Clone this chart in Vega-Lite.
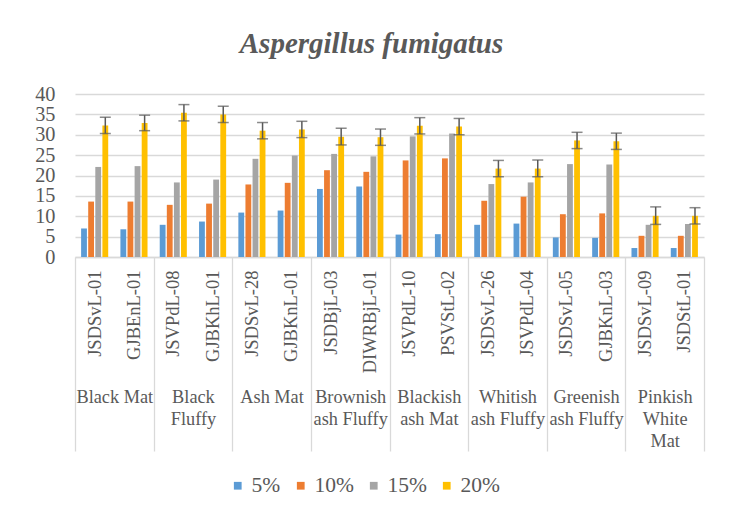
{
  "$schema": "https://vega.github.io/schema/vega-lite/v6.json",
  "autosize": {"type": "none"},
  "width": 629,
  "height": 163,
  "padding": {"left": 75, "top": 94, "right": 32, "bottom": 263},
  "background": "white",
  "title": {
    "text": "Aspergillus fumigatus",
    "anchor": "middle",
    "dx": -18,
    "offset": 25
  },
  "config": {
    "view": {"stroke": null},
    "font": "Liberation Serif",
    "title": {"font": "Liberation Serif", "fontStyle": "italic", "fontWeight": "bold", "fontSize": 29, "color": "#595959"},
    "axisY": {
      "labelFont": "Liberation Serif",
      "labelFontSize": 20.3,
      "labelColor": "#595959",
      "labelPadding": 20,
      "labelOverlap": false,
      "labelFlush": false,
      "ticks": false,
      "domain": false,
      "gridColor": "#d9d9d9",
      "gridWidth": 1.3,
      "title": null
    },
    "legend": {
      "labelFont": "Liberation Serif",
      "labelFontSize": 21.5,
      "labelColor": "#595959",
      "symbolType": "square",
      "symbolSize": 60,
      "symbolStrokeWidth": 0,
      "labelOffset": 3,
      "columnPadding": 9,
      "gridAlign": "none",
      "padding": 0
    }
  },
  "datasets": {
    "rows": [
      {"group": "Black Mat", "isolate": "JSDSvL-01", "5%": 7.0, "10%": 13.6, "15%": 22.1, "20%": 32.3},
      {"group": "Black Mat", "isolate": "GJBEnL-01", "5%": 6.8, "10%": 13.6, "15%": 22.3, "20%": 32.9},
      {"group": "Black Fluffy", "isolate": "JSVPdL-08", "5%": 7.9, "10%": 12.8, "15%": 18.3, "20%": 35.4},
      {"group": "Black Fluffy", "isolate": "GJBKhL-01", "5%": 8.7, "10%": 13.1, "15%": 19.0, "20%": 35.0},
      {"group": "Ash Mat", "isolate": "JSDSvL-28", "5%": 10.9, "10%": 17.8, "15%": 24.1, "20%": 31.0},
      {"group": "Ash Mat", "isolate": "GJBKnL-01", "5%": 11.4, "10%": 18.2, "15%": 24.9, "20%": 31.3},
      {"group": "Brownish ash Fluffy", "isolate": "JSDBjL-03", "5%": 16.7, "10%": 21.3, "15%": 25.3, "20%": 29.5},
      {"group": "Brownish ash Fluffy", "isolate": "DIWRBjL-01", "5%": 17.3, "10%": 20.9, "15%": 24.7, "20%": 29.4},
      {"group": "Blackish ash Mat", "isolate": "JSVPdL-10", "5%": 5.5, "10%": 23.7, "15%": 29.6, "20%": 32.2},
      {"group": "Blackish ash Mat", "isolate": "PSVStL-02", "5%": 5.6, "10%": 24.2, "15%": 30.3, "20%": 32.0},
      {"group": "Whitish ash Fluffy", "isolate": "JSDSvL-26", "5%": 7.9, "10%": 13.8, "15%": 17.9, "20%": 21.7},
      {"group": "Whitish ash Fluffy", "isolate": "JSVPdL-04", "5%": 8.2, "10%": 14.8, "15%": 18.3, "20%": 21.7},
      {"group": "Greenish ash Fluffy", "isolate": "JSDSvL-05", "5%": 4.8, "10%": 10.5, "15%": 22.8, "20%": 28.6},
      {"group": "Greenish ash Fluffy", "isolate": "GJBKnL-03", "5%": 4.7, "10%": 10.7, "15%": 22.7, "20%": 28.4},
      {"group": "Pinkish White Mat", "isolate": "JSDSvL-09", "5%": 2.2, "10%": 5.2, "15%": 7.9, "20%": 10.1},
      {"group": "Pinkish White Mat", "isolate": "JSDStL-01", "5%": 2.2, "10%": 5.2, "15%": 8.1, "20%": 10.1}
    ],
    "errors": [
      {"isolate": "JSDSvL-01", "series": "20%", "low": 30.3, "high": 34.3},
      {"isolate": "GJBEnL-01", "series": "20%", "low": 31.0, "high": 34.8},
      {"isolate": "JSVPdL-08", "series": "20%", "low": 33.4, "high": 37.4},
      {"isolate": "GJBKhL-01", "series": "20%", "low": 33.0, "high": 37.0},
      {"isolate": "JSDSvL-28", "series": "20%", "low": 29.0, "high": 33.0},
      {"isolate": "GJBKnL-01", "series": "20%", "low": 29.3, "high": 33.3},
      {"isolate": "JSDBjL-03", "series": "20%", "low": 27.5, "high": 31.6},
      {"isolate": "DIWRBjL-01", "series": "20%", "low": 27.4, "high": 31.4},
      {"isolate": "JSVPdL-10", "series": "20%", "low": 30.2, "high": 34.2},
      {"isolate": "PSVStL-02", "series": "20%", "low": 30.0, "high": 34.0},
      {"isolate": "JSDSvL-26", "series": "20%", "low": 19.7, "high": 23.7},
      {"isolate": "JSVPdL-04", "series": "20%", "low": 19.7, "high": 23.8},
      {"isolate": "JSDSvL-05", "series": "20%", "low": 26.6, "high": 30.6},
      {"isolate": "GJBKnL-03", "series": "20%", "low": 26.4, "high": 30.4},
      {"isolate": "JSDSvL-09", "series": "20%", "low": 8.0, "high": 12.3},
      {"isolate": "JSDStL-01", "series": "20%", "low": 8.1, "high": 12.1}
    ],
    "groups": [
      {"group": "Black Mat"}, {"group": "Black Fluffy"}, {"group": "Ash Mat"},
      {"group": "Brownish ash Fluffy"}, {"group": "Blackish ash Mat"},
      {"group": "Whitish ash Fluffy"}, {"group": "Greenish ash Fluffy"},
      {"group": "Pinkish White Mat"}
    ]
  },
  "layer": [
    {
      "layer": [
        {
          "data": {"name": "rows"},
          "transform": [{"fold": ["5%", "10%", "15%", "20%"], "as": ["series", "value"]}],
          "mark": {"type": "bar"},
          "encoding": {
            "x": {
              "field": "isolate",
              "type": "nominal",
              "scale": {
                "domain": ["JSDSvL-01", "GJBEnL-01", "JSVPdL-08", "GJBKhL-01", "JSDSvL-28", "GJBKnL-01", "JSDBjL-03", "DIWRBjL-01", "JSVPdL-10", "PSVStL-02", "JSDSvL-26", "JSVPdL-04", "JSDSvL-05", "GJBKnL-03", "JSDSvL-09", "JSDStL-01"],
                "paddingInner": 0,
                "paddingOuter": 0
              },
              "axis": {
                "title": null,
                "orient": "bottom",
                "labelAngle": -90,
                "labelFont": "Liberation Serif",
                "labelFontSize": 18.5,
                "labelColor": "#595959",
                "labelPadding": 13,
                "labelOverlap": false,
                "ticks": false,
                "domainColor": "#d9d9d9",
                "domainWidth": 1.3
              }
            },
            "xOffset": {
              "field": "series",
              "type": "nominal",
              "scale": {"domain": ["5%", "10%", "15%", "20%"], "paddingInner": 0.18, "paddingOuter": 0.86}
            },
            "y": {
              "field": "value",
              "type": "quantitative",
              "scale": {"domain": [0, 40], "nice": false},
              "axis": {"values": [0, 5, 10, 15, 20, 25, 30, 35, 40], "labelOverlap": false}
            },
            "color": {
              "field": "series",
              "type": "nominal",
              "scale": {"domain": ["5%", "10%", "15%", "20%"], "range": ["#5B9BD5", "#ED7D31", "#A5A5A5", "#FFC000"]},
              "legend": {
                "title": null,
                "orient": "none",
                "direction": "horizontal",
                "legendX": 152,
                "legendY": 381,
                "labelFont": "Liberation Serif",
                "labelFontSize": 21.5,
                "labelOffset": 3,
                "columnPadding": 9
              }
            }
          }
        },
        {
          "data": {"name": "errors"},
          "mark": {"type": "rule", "color": "#595959", "strokeWidth": 1.5},
          "encoding": {
            "x": {"field": "isolate", "type": "nominal"},
            "xOffset": {"field": "series", "type": "nominal"},
            "y": {"field": "low", "type": "quantitative", "axis": {"values": [0, 5, 10, 15, 20, 25, 30, 35, 40], "labelOverlap": false}},
            "y2": {"field": "high"}
          }
        },
        {
          "data": {"name": "errors"},
          "mark": {"type": "tick", "orient": "horizontal", "color": "#595959", "size": 11, "thickness": 1.5},
          "encoding": {
            "x": {"field": "isolate", "type": "nominal"},
            "xOffset": {"field": "series", "type": "nominal"},
            "y": {"field": "low", "type": "quantitative", "axis": {"values": [0, 5, 10, 15, 20, 25, 30, 35, 40], "labelOverlap": false}}
          }
        },
        {
          "data": {"name": "errors"},
          "mark": {"type": "tick", "orient": "horizontal", "color": "#595959", "size": 11, "thickness": 1.5},
          "encoding": {
            "x": {"field": "isolate", "type": "nominal"},
            "xOffset": {"field": "series", "type": "nominal"},
            "y": {"field": "high", "type": "quantitative", "axis": {"values": [0, 5, 10, 15, 20, 25, 30, 35, 40], "labelOverlap": false}}
          }
        }
      ]
    },
    {
      "data": {"name": "groups"},
      "mark": {"type": "point", "opacity": 0},
      "encoding": {
        "x": {
          "field": "group",
          "type": "nominal",
          "scale": {
            "domain": ["Black Mat", "Black Fluffy", "Ash Mat", "Brownish ash Fluffy", "Blackish ash Mat", "Whitish ash Fluffy", "Greenish ash Fluffy", "Pinkish White Mat"],
            "paddingInner": 0,
            "paddingOuter": 0
          },
          "axis": {
            "title": null,
            "orient": "bottom",
            "domain": false,
            "tickBand": "extent",
            "tickSize": 194,
            "tickColor": "#d9d9d9",
            "tickWidth": 1.3,
            "labelAngle": 0,
            "labelFont": "Liberation Serif",
            "labelFontSize": 18.3,
            "labelColor": "#595959",
            "labelLineHeight": 22,
            "labelBaseline": "top",
            "labelPadding": -63,
            "labelOverlap": false,
            "labelFlush": false,
            "labelExpr": "indexof(['Black Mat','Ash Mat'], datum.label) >= 0 ? datum.label : datum.label == 'Pinkish White Mat' ? split(datum.label, ' ') : [split(datum.label, ' ')[0], join(slice(split(datum.label, ' '), 1), ' ')]"
          }
        }
      }
    }
  ],
  "resolve": {"scale": {"x": "independent"}, "axis": {"x": "independent"}}
}
